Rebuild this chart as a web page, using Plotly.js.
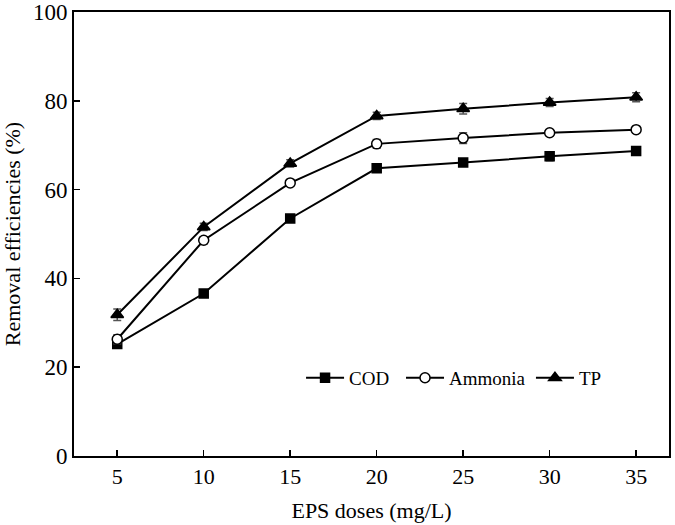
<!DOCTYPE html>
<html>
<head>
<meta charset="utf-8">
<script src="https://cdn.plot.ly/plotly-3.0.1.min.js"></script>
<style>html,body{margin:0;padding:0;background:#fff;}#chart{width:675px;height:525px;}</style>
</head>
<body>
<div id="chart"></div>
<script>
const doses = [5, 10, 15, 20, 25, 30, 35];
const cod = [25.2, 36.6, 53.5, 64.8, 66.1, 67.5, 68.7];
const codErr = [0.6, 0.6, 0.8, 0.5, 0.6, 1.0, 0.5];
const ammonia = [26.3, 48.6, 61.5, 70.3, 71.6, 72.8, 73.5];
const ammoniaErr = [1.0, 0.8, 0.7, 1.0, 1.2, 0.6, 0.7];
const tp = [31.8, 51.6, 65.9, 76.6, 78.2, 79.6, 80.8];
const tpErr = [1.3, 0.8, 0.8, 0.8, 1.2, 0.9, 1.0];
const yTicks = [0, 20, 40, 60, 80, 100];

const font = {family: '"Liberation Serif", "Times New Roman", serif', color: '#000'};
function series(name, y, err, symbol, size, fill, legendId) {
  return {
    x: doses, y: y, name: name, type: 'scatter', mode: 'lines+markers',
    legend: legendId,
    line: {color: '#000', width: 2},
    marker: {symbol: symbol, size: size, color: fill, line: {color: '#000', width: 1.5}},
    error_y: {type: 'data', array: err, visible: true, color: '#555', thickness: 1.5, width: 4}
  };
}
const data = [
  series('COD', cod, codErr, 'square', 9, '#000', 'legend'),
  series('Ammonia', ammonia, ammoniaErr, 'circle', 10, '#fff', 'legend2'),
  series('TP', tp, tpErr, 'triangle-up', 11, '#000', 'legend3')
];
function leg(x) {
  return {orientation: 'h', x: x, y: 0.176, xanchor: 'left', yanchor: 'middle',
          bgcolor: 'rgba(0,0,0,0)', font: Object.assign({size: 19}, font), itemwidth: 38};
}
const layout = {
  width: 675, height: 525,
  margin: {l: 74, r: 6, t: 12, b: 69},
  paper_bgcolor: '#fff', plot_bgcolor: '#fff',
  font: Object.assign({size: 20}, font),
  showlegend: true,
  legend: leg(0.3816),
  legend2: leg(0.5496),
  legend3: leg(0.768),
  xaxis: {
    range: [2.5, 36.9], tickvals: doses, ticks: 'inside', ticklen: 6, tickwidth: 1.5,
    tickcolor: '#000', showline: true, linecolor: '#000', linewidth: 2, mirror: true,
    showgrid: false, zeroline: false, tickfont: Object.assign({size: 22}, font),
    title: {text: 'EPS doses (mg/L)', font: Object.assign({size: 22}, font), standoff: 14}
  },
  yaxis: {
    range: [0, 100.001], tickvals: yTicks, ticks: 'inside', ticklen: 6, tickwidth: 1.5,
    tickcolor: '#000', showline: true, linecolor: '#000', linewidth: 2, mirror: true,
    showgrid: false, zeroline: false, tickfont: Object.assign({size: 23}, font),
    ticklabeloverflow: 'allow',
    title: {text: 'Removal efficiencies (%)', font: Object.assign({size: 22}, font), standoff: 10}
  }
};
Plotly.newPlot('chart', data, layout, {displayModeBar: false, staticPlot: true});
</script>
</body>
</html>
